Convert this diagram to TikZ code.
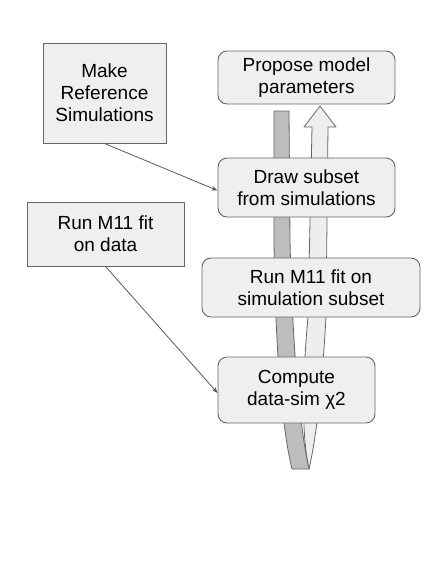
\documentclass[tikz,border=0pt]{standalone}
\usepackage{fontspec}
\setmainfont{Liberation Sans}
\usetikzlibrary{arrows.meta}
\definecolor{boxfill}{HTML}{EFEFEF}
\definecolor{boxline}{HTML}{666666}
\definecolor{darkstrip}{HTML}{BDBDBD}
\definecolor{lightstrip}{HTML}{EEEEEE}
\definecolor{arrowcol}{HTML}{595959}
\tikzset{
  sqbox/.style={draw=boxline, fill=boxfill, line width=0.9pt, align=center,
    inner sep=0pt, font=\fontsize{19}{22}\selectfont},
  rbox/.style={sqbox, rounded corners=9pt},
  link/.style={draw=arrowcol, line width=0.8pt, -{Stealth[length=6pt,width=4.5pt]}},
  strip/.style={draw=boxline, line width=0.8pt, line join=round},
}
\begin{document}
\begin{tikzpicture}[x=1pt,y=-1pt]
\useasboundingbox (0,0) rectangle (436,568);
% ribbon loop (behind boxes)
\path[strip, fill=lightstrip] (320,106) -- (336,127) -- (328,127) -- (326,317)
  .. controls (323,370) and (318,430) .. (309,469)
  .. controls (300,430) and (304,360) .. (308,317) -- (312,127) -- (304,127) -- cycle;
\path[strip, fill=darkstrip] (274,111) -- (289,111) -- (290,240)
  .. controls (292,330) and (298,420) .. (309,469) -- (292,469)
  .. controls (280,420) and (275,330) .. (274,240) -- cycle;
% boxes
\node[sqbox, minimum width=123pt, minimum height=100pt] (mref) at (104.5,93) {Make\\Reference\\Simulations};
\node[rbox, minimum width=177pt, minimum height=53pt] (propose) at (306.5,77.5) {Propose model\\parameters};
\node[rbox, minimum width=177pt, minimum height=59pt] (drawsub) at (306.5,187.5) {Draw subset\\from simulations};
\node[rbox, minimum width=218pt, minimum height=59pt] (runsim) at (311,287.5) {Run M11 fit on\\simulation subset};
\node[rbox, minimum width=157pt, minimum height=66pt] (compute) at (296.5,390) {Compute\\data-sim χ2};
\node[sqbox, minimum width=157pt, minimum height=64pt] (rundata) at (105.5,234) {Run M11 fit\\on data};
% connectors
\draw[link] (mref.south) -- ([yshift=-3pt]drawsub.west);
\draw[link] (rundata.south) -- ([yshift=-3pt]compute.west);
\end{tikzpicture}
\end{document}
